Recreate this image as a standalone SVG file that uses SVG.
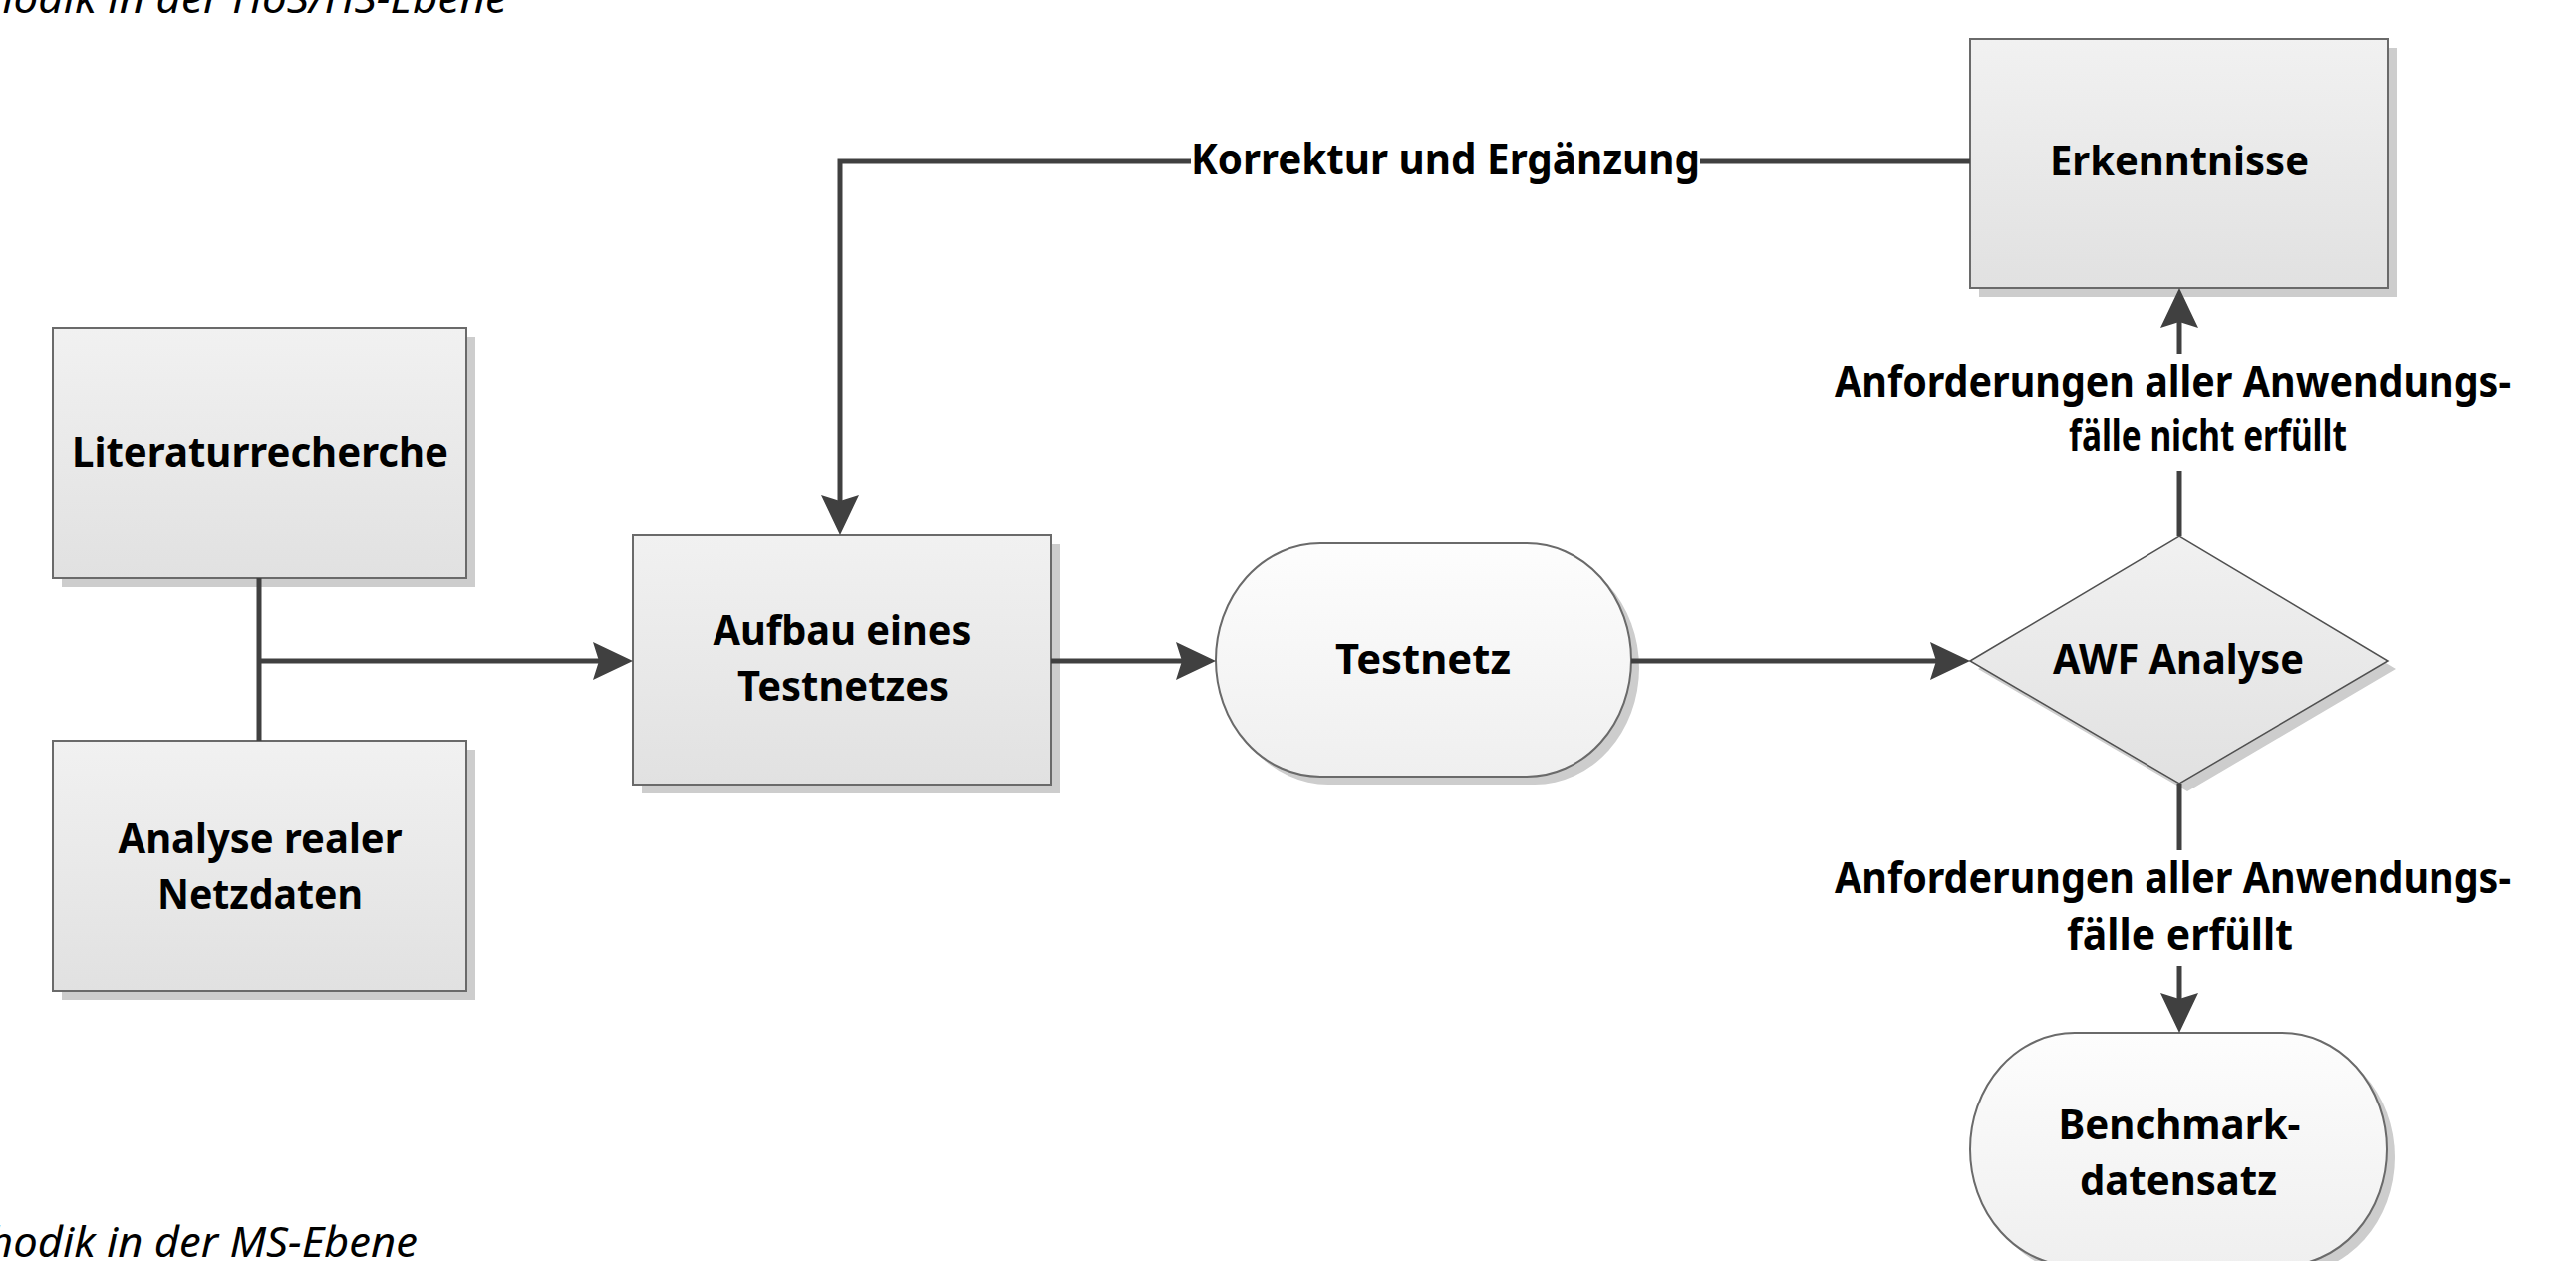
<svg xmlns="http://www.w3.org/2000/svg" width="2585" height="1265" viewBox="0 0 2585 1265">
<defs>
<linearGradient id="gBox" x1="0" y1="0" x2="0" y2="1"><stop offset="0" stop-color="#f1f1f1"/><stop offset="1" stop-color="#e1e1e1"/></linearGradient>
<linearGradient id="gTerm" x1="0" y1="0" x2="0" y2="1"><stop offset="0" stop-color="#fdfdfd"/><stop offset="1" stop-color="#efefef"/></linearGradient>
<marker id="arr" viewBox="0 0 40 38" refX="10" refY="19" markerWidth="40" markerHeight="38" markerUnits="userSpaceOnUse" orient="auto"><path d="M0,0 L40,19 L0,38 L6,19 Z" fill="#404040"/></marker>
<style>
.box{fill:url(#gBox);stroke:#6a6a6a;stroke-width:2}
.term{fill:url(#gTerm);stroke:#6a6a6a;stroke-width:2}
.shadow{fill:#cdcdcd}
.t{font-family:"Noto Sans","Open Sans",sans-serif;font-weight:700;font-size:42px;fill:#000;text-anchor:middle}
.lbl{font-family:"Noto Sans","Open Sans",sans-serif;font-weight:700;font-size:43px;fill:#000}
.it{font-family:"Noto Sans","Open Sans",sans-serif;font-style:italic;font-size:42px;fill:#000}
.c{fill:none;stroke:#404040;stroke-width:5}
</style>
</defs>
<rect width="2585" height="1265" fill="#fff"/>
<text class="it" x="-12" y="13" textLength="521" lengthAdjust="spacingAndGlyphs">hodik in der HöS/HS-Ebene</text>
<text class="it" x="-12" y="1261" textLength="431" lengthAdjust="spacingAndGlyphs">hodik in der MS-Ebene</text>

<g id="literaturrecherche">
<rect class="shadow" x="62" y="338" width="415" height="251"/>
<rect class="box" x="53" y="329" width="415" height="251"/>
<text class="t" x="261" y="468" textLength="378" lengthAdjust="spacingAndGlyphs">Literaturrecherche</text>
</g>
<g id="analyse">
<rect class="shadow" x="62" y="752" width="415" height="251"/>
<rect class="box" x="53" y="743" width="415" height="251"/>
<text class="t" x="261" y="856" textLength="285" lengthAdjust="spacingAndGlyphs">Analyse realer</text>
<text class="t" x="261" y="912" textLength="206" lengthAdjust="spacingAndGlyphs">Netzdaten</text>
</g>
<g id="aufbau">
<rect class="shadow" x="644" y="546" width="420" height="250"/>
<rect class="box" x="635" y="537" width="420" height="250"/>
<text class="t" x="845" y="647" textLength="259" lengthAdjust="spacingAndGlyphs">Aufbau eines</text>
<text class="t" x="846" y="703" textLength="212" lengthAdjust="spacingAndGlyphs">Testnetzes</text>
</g>
<g id="testnetz">
<path class="shadow" d="M1333,553 H1540 A105,117 0 0 1 1540,787 H1333 A105,117 0 0 1 1333,553 Z"/>
<path class="term" d="M1325,545 H1532 A105,117 0 0 1 1532,779 H1325 A105,117 0 0 1 1325,545 Z"/>
<text class="t" x="1428" y="676" textLength="176" lengthAdjust="spacingAndGlyphs">Testnetz</text>
</g>
<g id="awf">
<polygon class="shadow" points="1985,671 2195,546 2404,671 2195,794"/>
<polygon class="box" style="stroke-width:1.5;stroke:#505050" points="1977,663 2187,538 2396,663 2187,786"/>
<text class="t" x="2186" y="676" textLength="252" lengthAdjust="spacingAndGlyphs">AWF Analyse</text>
</g>
<g id="erkenntnisse">
<rect class="shadow" x="1986" y="48" width="419" height="250"/>
<rect class="box" x="1977" y="39" width="419" height="250"/>
<text class="t" x="2187" y="176" textLength="260" lengthAdjust="spacingAndGlyphs">Erkenntnisse</text>
</g>
<g id="benchmark">
<path class="shadow" d="M2090,1044 H2298 A105,117 0 0 1 2298,1278 H2090 A105,117 0 0 1 2090,1044 Z"/>
<path class="term" d="M2082,1036 H2290 A105,117 0 0 1 2290,1270 H2082 A105,117 0 0 1 2082,1036 Z"/>
<text class="t" x="2187" y="1143" textLength="243" lengthAdjust="spacingAndGlyphs">Benchmark-</text>
<text class="t" x="2186" y="1199" textLength="198" lengthAdjust="spacingAndGlyphs">datensatz</text>
</g>

<g id="connectors">
<path class="c" d="M260,580 V743"/>
<path class="c" d="M260,663 H605" marker-end="url(#arr)"/>
<path class="c" d="M1055,663 H1190" marker-end="url(#arr)"/>
<path class="c" d="M1637,663 H1947" marker-end="url(#arr)"/>
<path class="c" d="M1977,162 H1706"/>
<path class="c" d="M1195,162 H843 V507" marker-end="url(#arr)"/>
<text class="lbl" x="1195" y="175" textLength="511" lengthAdjust="spacingAndGlyphs">Korrektur und Ergänzung</text>
<path class="c" d="M2187,538 V472"/>
<path class="c" d="M2187,355 V319" marker-end="url(#arr)"/>
<text class="lbl" x="1841" y="398" textLength="679" lengthAdjust="spacingAndGlyphs">Anforderungen aller Anwendungs-</text>
<text class="lbl" x="2076" y="452" textLength="279" lengthAdjust="spacingAndGlyphs">fälle nicht erfüllt</text>
<path class="c" d="M2187,786 V853"/>
<path class="c" d="M2187,969 V1006" marker-end="url(#arr)"/>
<text class="lbl" x="1841" y="896" textLength="679" lengthAdjust="spacingAndGlyphs">Anforderungen aller Anwendungs-</text>
<text class="lbl" x="2074" y="953" textLength="227" lengthAdjust="spacingAndGlyphs">fälle erfüllt</text>
</g>
</svg>
